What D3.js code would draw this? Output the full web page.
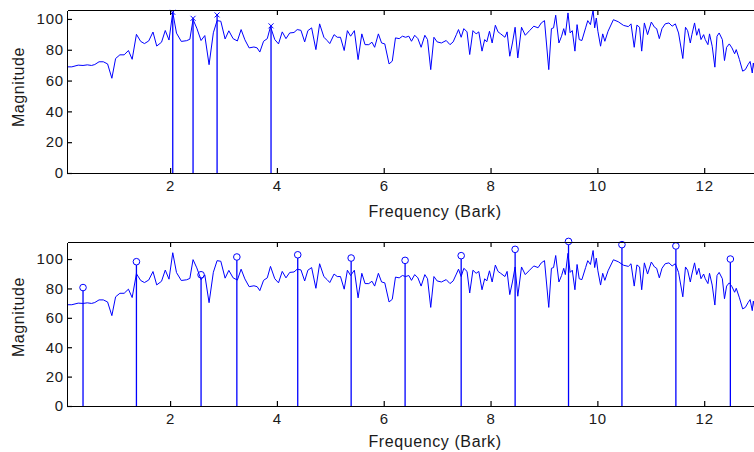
<!DOCTYPE html>
<html><head><meta charset="utf-8">
<script src="https://cdn.jsdelivr.net/npm/d3@7"></script>
<style>
html,body{margin:0;padding:0;background:#fff;}
svg{display:block;}
.tick text{font-family:"Liberation Sans",Arial,Helvetica,sans-serif;font-size:15px;fill:#1a1a1a;letter-spacing:0.8px;}
.lbl{font-family:"Liberation Sans",Arial,Helvetica,sans-serif;font-size:16px;fill:#1a1a1a;letter-spacing:0.6px;}
</style></head>
<body>
<svg id="chart" width="754" height="452"></svg>
<script>
// ---- data ----
const barkFreq = [0.05,0.16,0.28,0.37,0.45,0.53,0.59,0.67,0.75,0.83,0.91,0.98,1.06,1.14,1.22,1.29,1.37,1.45,1.52,1.60,1.68,1.75,1.84,1.91,1.98,2.05,2.12,2.21,2.31,2.37,2.43,2.50,2.58,2.65,2.73,2.81,2.88,2.95,3.03,3.10,3.18,3.26,3.33,3.40,3.48,3.57,3.63,3.68,3.75,3.82,3.88,3.96,4.03,4.10,4.17,4.24,4.32,4.38,4.45,4.52,4.58,4.65,4.73,4.80,4.88,4.94,4.99,5.07,5.13,5.19,5.26,5.32,5.38,5.45,5.52,5.59,5.65,5.72,5.78,5.83,5.90,5.96,6.02,6.10,6.16,6.22,6.29,6.35,6.41,6.47,6.52,6.58,6.64,6.70,6.77,6.82,6.88,6.94,7.00,7.08,7.17,7.24,7.30,7.36,7.40,7.45,7.50,7.56,7.61,7.67,7.73,7.78,7.84,7.89,7.93,7.98,8.03,8.09,8.14,8.19,8.27,8.31,8.36,8.41,8.46,8.51,8.58,8.65,8.73,8.81,8.89,8.95,9.01,9.09,9.14,9.18,9.22,9.28,9.33,9.37,9.40,9.45,9.49,9.53,9.58,9.62,9.66,9.71,9.78,9.82,9.87,9.92,9.95,9.98,10.01,10.06,10.10,10.14,10.20,10.30,10.39,10.49,10.58,10.63,10.69,10.74,10.79,10.83,10.88,10.94,11.01,11.07,11.11,11.16,11.21,11.27,11.34,11.40,11.46,11.52,11.60,11.65,11.69,11.74,11.77,11.82,11.86,11.90,11.94,11.99,12.02,12.07,12.10,12.15,12.20,12.24,12.28,12.34,12.38,12.42,12.47,12.52,12.57,12.60,12.66,12.72,12.77,12.82,12.86,12.90,12.92,12.95];
const magnitude = [68.9,68.9,70.0,69.8,70.2,69.8,70.4,72.2,72.2,70.8,61.5,74.3,76.7,76.7,79.5,73.8,90.0,85.4,84.0,85.7,91.5,82.4,84.9,92.5,86.3,104.3,90.8,85.4,85.9,86.8,99.6,94.0,86.0,89.2,70.3,91.0,98.9,98.5,87.0,92.3,87.2,85.7,93.1,86.5,81.2,81.8,81.2,78.5,85.5,87.2,95.0,86.6,83.8,91.6,87.2,90.9,91.2,93.1,92.6,85.1,92.4,94.2,80.1,96.8,88.1,86.0,84.0,89.8,88.1,88.1,79.5,92.4,88.8,92.4,73.6,90.3,83.3,83.3,84.9,81.6,90.3,84.4,83.8,70.8,72.6,87.7,87.2,88.8,88.1,88.8,85.5,89.4,87.2,81.6,89.4,86.6,67.1,88.1,85.1,84.4,86.0,83.3,85.1,89.8,93.1,88.1,93.7,91.6,76.9,92.4,90.3,91.6,79.1,86.6,85.1,92.0,84.4,95.9,91.6,90.3,88.1,91.6,75.8,84.4,94.6,74.7,94.6,89.4,92.4,95.3,94.2,97.4,98.9,67.1,93.7,94.2,102.4,84.4,88.8,93.7,89.4,103.9,90.9,92.4,79.1,96.3,86.6,86.0,94.2,98.9,96.3,105.8,94.2,100.6,92.0,82.3,90.3,85.5,92.0,99.5,98.2,95.8,95.0,96.8,81.6,96.0,94.6,79.1,97.4,89.8,98.0,94.6,93.7,87.2,93.7,96.8,97.4,95.3,96.8,90.9,74.3,94.6,92.4,84.4,89.8,97.4,89.4,93.7,86.6,89.8,86.6,83.3,90.3,82.3,68.7,88.8,90.9,86.6,73.0,81.6,83.8,81.2,77.4,80.1,73.6,66.1,67.1,70.3,72.4,64.9,71.4,66.0];
const peakFreq = [2.05,2.43,2.88,3.89];
const peakMag = [104.3,100.4,102.6,95.5];
const bandFreq = [0.37,1.37,2.58,3.25,4.39,5.39,6.40,7.45,8.46,9.46,10.46,11.47,12.49];
const bandMag = [80.6,98.2,89.3,101.4,102.9,100.7,99.1,102.3,106.6,112.0,109.8,108.9,100.0];
const xTickValues = [2,4,6,8,10,12];
const yTickValues = [0,20,40,60,80,100];
const xLabel = "Frequency (Bark)";
const yLabel = "Magnitude";

// ---- layout ----
const svg = d3.select("#chart");
const blue = "#0000ff";
const x = d3.scaleLinear().domain([0.07, 13.85]).range([67, 803]);

const panels = [
  {top:10, bottom:173, ymax:105.8, kind:"x", freq:peakFreq, mag:peakMag, xlabY:217, ylabY:87},
  {top:242, bottom:406, ymax:111.6, kind:"o", freq:bandFreq, mag:bandMag, xlabY:447, ylabY:317}
];

panels.forEach((p, i) => {
  const y = d3.scaleLinear().domain([0, p.ymax]).range([p.bottom, p.top]);
  const g = svg.append("g");
  const clipId = "clip" + i;
  svg.append("clipPath").attr("id", clipId).append("rect")
    .attr("x", 67).attr("y", p.top).attr("width", 736).attr("height", p.bottom - p.top);

  // spectrum line
  const pts = barkFreq.map((f, k) => [f, magnitude[k]]);
  g.append("path").datum(pts)
    .attr("clip-path", `url(#${clipId})`)
    .attr("fill", "none").attr("stroke", blue).attr("stroke-width", 1)
    .attr("stroke-linejoin", "round")
    .attr("d", d3.line().x(d => x(d[0])).y(d => y(d[1])));

  // stems
  const stems = p.freq.map((f, k) => [f, p.mag[k]]);
  g.selectAll(".stem").data(stems).join("line")
    .attr("x1", d => x(d[0])).attr("x2", d => x(d[0]))
    .attr("y1", y(0)).attr("y2", d => y(d[1]) + (p.kind === "o" ? 3.3 : 0))
    .attr("stroke", blue).attr("stroke-width", 1.3);
  if (p.kind === "x") {
    const s = 2.5;
    g.selectAll(".mk").data(stems).join("path")
      .attr("d", d => {const cx = x(d[0]), cy = y(d[1]);
        return `M${cx-s},${cy-s}L${cx+s},${cy+s}M${cx-s},${cy+s}L${cx+s},${cy-s}`;})
      .attr("stroke", blue).attr("stroke-width", 1).attr("fill", "none");
  } else {
    g.selectAll(".mk").data(stems).join("circle")
      .attr("cx", d => x(d[0])).attr("cy", d => y(d[1])).attr("r", 3.3)
      .attr("stroke", blue).attr("stroke-width", 1).attr("fill", "none");
  }

  // axes
  const ax = g.append("g").attr("transform", `translate(0,${p.bottom})`)
    .call(d3.axisBottom(x).tickValues(xTickValues).tickFormat(d3.format("d"))
      .tickSizeInner(-5).tickSizeOuter(0).tickPadding(7));
  const axTop = g.append("g").attr("transform", `translate(0,${p.top})`)
    .call(d3.axisTop(x).tickValues(xTickValues).tickFormat("")
      .tickSizeInner(-5).tickSizeOuter(0));
  const ay = g.append("g").attr("transform", `translate(67,0)`)
    .call(d3.axisLeft(y).tickValues(yTickValues).tickFormat(d3.format("d"))
      .tickSizeInner(-5).tickSizeOuter(0).tickPadding(3));
  [ax, axTop, ay].forEach(a => {
    a.selectAll("path,line").attr("stroke", "#000").attr("stroke-width", 1.2);
    a.select(".domain").attr("shape-rendering", "crispEdges");
  });

  g.append("text").attr("class", "lbl")
    .attr("x", 435).attr("y", p.xlabY).attr("text-anchor", "middle").text(xLabel);
  g.append("text").attr("class", "lbl")
    .attr("transform", `translate(24,${p.ylabY}) rotate(-90)`)
    .attr("text-anchor", "middle").text(yLabel);
});
</script>
</body></html>
